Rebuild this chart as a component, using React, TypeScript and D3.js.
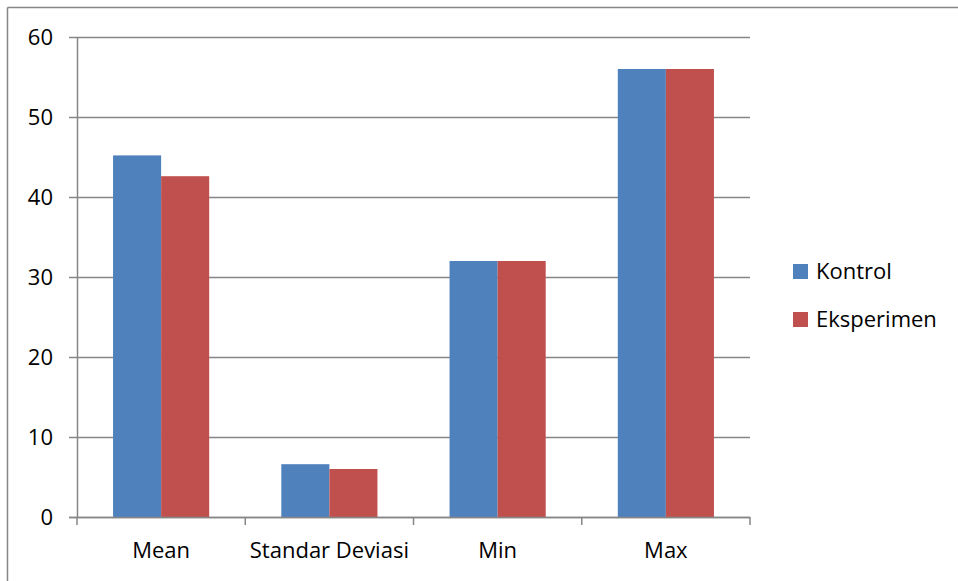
import React from "react";
import * as d3 from "d3";

const categories = ["Mean", "Standar Deviasi", "Min", "Max"];
const seriesNames = ["Kontrol", "Eksperimen"];
const kontrol = [45.2, 6.6, 32, 56];
const eksperimen = [42.6, 6.0, 32, 56];
const yTicks = [0, 10, 20, 30, 40, 50, 60];
const colors = ["#4F81BD", "#C0504D"];

export default function App() {
  const W = 958, H = 581;
  const x0 = 77, x1 = 750, yTop = 37, yBot = 517;
  const font = "'Open Sans', sans-serif";
  const fs = 22;
  const x = d3.scaleBand<string>().domain(categories).range([x0, x1]).paddingInner(0).paddingOuter(0);
  const y = d3.scaleLinear().domain([0, 60]).range([yBot, yTop]);
  const inner = d3.scaleBand<string>().domain(seriesNames).range([0, x.bandwidth()]).paddingInner(0).paddingOuter(0.75);
  const series = [kontrol, eksperimen];
  const grey = "#868686";
  return (
    <svg width={W} height={H} style={{ position: "absolute", left: 0, top: 0 }} fontFamily={font}>
      <rect x={0} y={0} width={W} height={H} fill="#fff" />
      <line x1={7.5} x2={W} y1={7.5} y2={7.5} stroke={grey} strokeWidth={1.5} />
      <line x1={7.5} x2={7.5} y1={7.5} y2={H} stroke={grey} strokeWidth={1.5} />
      {yTicks.map((t) => (
        <g key={t}>
          <line x1={69} x2={x1} y1={Math.round(y(t)) + 0.5} y2={Math.round(y(t)) + 0.5} stroke={grey} strokeWidth={1.5} />
          <text x={53} y={y(t)} dy="0.35em" textAnchor="end" fontSize={fs} fill="#000">{t}</text>
        </g>
      ))}
      {categories.map((c, i) =>
        series.map((s, j) => (
          <rect key={c + j} x={(x(c) as number) + (inner(seriesNames[j]) as number)} y={y(s[i])}
            width={inner.bandwidth()} height={yBot - y(s[i])} fill={colors[j]} />
        ))
      )}
      <line x1={x0 + 0.5} x2={x0 + 0.5} y1={yTop} y2={yBot} stroke={grey} strokeWidth={1.5} />
      <line x1={69} x2={x1} y1={yBot + 0.5} y2={yBot + 0.5} stroke={grey} strokeWidth={1.5} />
      {[...categories.map((c) => x(c) as number), x1].map((v, i) => (
        <line key={i} x1={v} x2={v} y1={yBot} y2={yBot + 8} stroke={grey} strokeWidth={1.5} />
      ))}
      {categories.map((c) => (
        <text key={c} x={(x(c) as number) + x.bandwidth() / 2} y={558} textAnchor="middle" fontSize={fs} fill="#000">{c}</text>
      ))}
      {seriesNames.map((n, j) => (
        <g key={n}>
          <rect x={793} y={264 + j * 48} width={15} height={15} fill={colors[j]} />
          <text x={816} y={271.5 + j * 48} dy="0.35em" fontSize={fs} fill="#000">{n}</text>
        </g>
      ))}
    </svg>
  );
}
